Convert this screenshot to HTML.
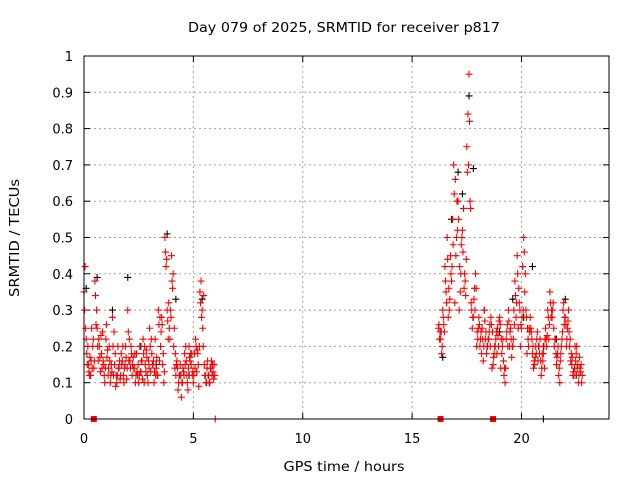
<!DOCTYPE html>
<html><head><meta charset="utf-8"><style>
html,body{margin:0;padding:0;background:#fff}
svg{display:block;font-family:"DejaVu Sans","Liberation Sans",sans-serif}
</style></head><body>
<svg id="c" width="640" height="480" viewBox="0 0 640 480">
<text x="344" y="32" text-anchor="middle" font-size="13" textLength="312" lengthAdjust="spacingAndGlyphs">Day 079 of 2025, SRMTID for receiver p817</text>
<text x="344" y="471" text-anchor="middle" font-size="13" textLength="121" lengthAdjust="spacingAndGlyphs">GPS time / hours</text>
<text transform="translate(19,238) rotate(-90)" text-anchor="middle" font-size="13" textLength="118" lengthAdjust="spacingAndGlyphs">SRMTID / TECUs</text>
<g id="grid"></g><g id="ticks"></g><g id="marks"></g>
<rect x="84" y="56" width="525" height="363" fill="none" stroke="#000" stroke-width="1"/>
</svg>
<script>
const xTicks=[0,5,10,15,20];
const yTicks=[0,0.1,0.2,0.3,0.4,0.5,0.6,0.7,0.8,0.9,1];
const yTickLabels=["0","0.1","0.2","0.3","0.4","0.5","0.6","0.7","0.8","0.9","1"];
const redHours1=[0,0.1,0.2,0.3,0.4,0.5,0.6,0.7,0.8,0.9,1,1.1,1.2,1.3,1.4,1.5,1.6,1.7,1.8,1.9,2,2.1,2.2,2.3,2.4,2.5,2.6,2.7,2.8,2.9,3,3.1,3.2,3.3,3.4,3.5,3.6,3.7,3.8,3.9,4,4.1,4.2,4.3,4.4,4.5,4.6,4.7,4.8,4.9,5,5.1,5.2,5.3,5.4,5.5,5.6,5.7,5.8,5.9];
const redTec1=[0.35,0.22,0.15,0.12,0.2,0.38,0.25,0.2,0.18,0.15,0.22,0.12,0.1,0.28,0.15,0.1,0.14,0.18,0.12,0.2,0.3,0.16,0.12,0.14,0.18,0.1,0.13,0.22,0.15,0.12,0.25,0.18,0.1,0.14,0.3,0.2,0.15,0.5,0.3,0.25,0.45,0.2,0.12,0.08,0.15,0.1,0.18,0.12,0.2,0.15,0.1,0.22,0.18,0.35,0.3,0.15,0.1,0.12,0.14,0.13];
const redHours2=[0.05,0.15,0.25,0.35,0.45,0.55,0.65,0.75,0.85,0.95,1.05,1.15,1.25,1.35,1.45,1.55,1.65,1.75,1.85,1.95,2.05,2.15,2.25,2.35,2.45,2.55,2.65,2.75,2.85,2.95,3.05,3.15,3.25,3.35,3.45,3.55,3.65,3.75,3.85,3.95,4.05,4.15,4.25,4.35,4.45,4.55,4.65,4.75,4.85,4.95,5.05,5.15,5.25,5.35,5.45,5.55,5.65,5.75,5.85,5.95];
const redTec2=[0.42,0.15,0.12,0.25,0.14,0.26,0.16,0.13,0.24,0.1,0.17,0.2,0.15,0.12,0.09,0.2,0.11,0.16,0.14,0.11,0.16,0.2,0.17,0.1,0.12,0.2,0.16,0.1,0.19,0.16,0.13,0.15,0.22,0.12,0.16,0.28,0.1,0.42,0.22,0.3,0.36,0.14,0.16,0.12,0.06,0.13,0.2,0.08,0.16,0.12,0.18,0.13,0.09,0.38,0.2,0.12,0.16,0.1,0.12,0.15];
const redTec5=[0.3,0.18,0.13,0.16,0.22,0.34,0.2,0.17,0.14,0.12,0.26,0.14,0.12,0.2,0.18,0.12,0.16,0.15,0.1,0.17,0.24,0.14,0.15,0.18,0.13,0.12,0.16,0.18,0.13,0.1,0.2,0.15,0.13,0.17,0.26,0.24,0.18,0.46,0.27,0.22,0.38,0.25,0.15,0.1,0.12,0.14,0.15,0.1,0.17,0.18,0.12,0.2,0.15,0.32,0.25,0.12,0.14,0.1,0.16,0.11];
const redTec6=[0.25,0.2,0.17,0.14,0.16,0.3,0.22,0.23,0.16,0.14,0.19,0.16,0.13,0.24,0.12,0.14,0.12,0.2,0.15,0.14,0.22,0.18,0.14,0.12,0.15,0.13,0.11,0.2,0.17,0.14,0.22,0.16,0.12,0.12,0.28,0.26,0.13,0.44,0.32,0.28,0.4,0.18,0.14,0.12,0.1,0.12,0.16,0.14,0.18,0.13,0.14,0.19,0.2,0.28,0.34,0.1,0.12,0.14,0.15,0.12];
const redHours3=[16.2,16.3,16.4,16.5,16.6,16.7,16.8,16.9,17,17.1,17.2,17.3,17.4,17.5,17.6,17.7,17.8,17.9,18,18.1,18.2,18.3,18.4,18.5,18.6,18.7,18.8,18.9,19,19.1,19.2,19.3,19.4,19.5,19.6,19.7,19.8,19.9,20,20.1,20.2,20.3,20.4,20.5,20.6,20.7,20.8,20.9,21,21.1,21.2,21.3,21.4,21.5,21.6,21.7,21.8,21.9,22,22.1,22.2,22.3,22.4,22.5,22.6,22.7];
const redTec3=[0.25,0.22,0.3,0.42,0.5,0.3,0.38,0.7,0.45,0.6,0.35,0.52,0.4,0.75,0.95,0.32,0.28,0.4,0.22,0.2,0.25,0.3,0.18,0.22,0.28,0.15,0.2,0.25,0.28,0.18,0.12,0.22,0.3,0.25,0.2,0.38,0.45,0.32,0.25,0.5,0.3,0.22,0.28,0.18,0.15,0.22,0.2,0.12,0.18,0.25,0.3,0.35,0.28,0.2,0.15,0.12,0.18,0.3,0.28,0.25,0.2,0.15,0.12,0.18,0.1,0.13];
const redHours4=[16.25,16.35,16.45,16.55,16.65,16.75,16.85,16.95,17.05,17.15,17.25,17.35,17.45,17.55,17.65,17.75,17.85,17.95,18.05,18.15,18.25,18.35,18.45,18.55,18.65,18.75,18.85,18.95,19.05,19.15,19.25,19.35,19.45,19.55,19.65,19.75,19.85,19.95,20.05,20.15,20.25,20.35,20.45,20.55,20.65,20.75,20.85,20.95,21.05,21.15,21.25,21.35,21.45,21.55,21.65,21.75,21.85,21.95,22.05,22.15,22.25,22.35,22.45,22.55,22.65,22.75];
const redTec4=[0.22,0.18,0.26,0.35,0.28,0.45,0.55,0.32,0.6,0.3,0.48,0.58,0.34,0.84,0.6,0.25,0.36,0.2,0.28,0.24,0.16,0.22,0.2,0.26,0.14,0.18,0.24,0.2,0.14,0.22,0.1,0.26,0.2,0.17,0.3,0.28,0.25,0.2,0.42,0.35,0.18,0.25,0.24,0.14,0.2,0.16,0.22,0.18,0.14,0.2,0.22,0.28,0.32,0.22,0.18,0.1,0.22,0.26,0.2,0.3,0.16,0.12,0.2,0.14,0.17,0.1];
const redTec7=[0.26,0.24,0.28,0.38,0.44,0.33,0.42,0.62,0.5,0.55,0.4,0.46,0.38,0.68,0.82,0.3,0.33,0.36,0.25,0.22,0.22,0.27,0.2,0.24,0.26,0.17,0.22,0.23,0.26,0.2,0.14,0.24,0.27,0.22,0.22,0.34,0.4,0.3,0.28,0.46,0.28,0.2,0.25,0.2,0.17,0.24,0.18,0.14,0.2,0.22,0.28,0.32,0.3,0.22,0.17,0.14,0.2,0.32,0.26,0.27,0.22,0.17,0.14,0.2,0.12,0.15];
const redTec8=[0.24,0.2,0.24,0.32,0.36,0.4,0.48,0.66,0.52,0.42,0.5,0.36,0.44,0.7,0.58,0.28,0.3,0.24,0.26,0.18,0.2,0.24,0.22,0.2,0.24,0.2,0.18,0.27,0.22,0.16,0.14,0.2,0.24,0.2,0.26,0.32,0.36,0.26,0.3,0.4,0.25,0.24,0.22,0.16,0.18,0.2,0.16,0.16,0.22,0.23,0.26,0.3,0.25,0.18,0.2,0.16,0.24,0.28,0.22,0.24,0.18,0.13,0.16,0.15,0.14,0.12];
const blackHours=[0.1,0.6,1.3,2.0,2.6,3.3,3.8,4.2,4.8,5.4,16.4,16.8,17.1,17.3,17.6,17.8,18.3,19.0,19.6,20.1,20.5,21.0,21.6,22.0,22.5];
const blackTec=[0.36,0.39,0.3,0.39,0.2,0.15,0.51,0.33,0.12,0.33,0.17,0.55,0.68,0.62,0.89,0.69,0.3,0.24,0.33,0.28,0.42,0.2,0.22,0.33,0.12];
const gapHours=[0.45,16.3,18.7];
const x=h=>84+h*(525/24), y=v=>419-v*363;
const NS="http://www.w3.org/2000/svg";
const g=document.getElementById('grid'),tk=document.getElementById('ticks'),mk=document.getElementById('marks');
function mkEl(t,a,p){const e=document.createElementNS(NS,t);for(const k in a)e.setAttribute(k,a[k]);p.appendChild(e);return e;}
xTicks.forEach(v=>{
 const l=mkEl('line',{x1:x(v),x2:x(v),y1:56,y2:419,stroke:'#a0a0a0','stroke-dasharray':'2,3'},g);
 
 
 mkEl('line',{x1:x(v),x2:x(v),y1:419,y2:413,stroke:'#000'},tk);
 mkEl('line',{x1:x(v),x2:x(v),y1:56,y2:62,stroke:'#000'},tk);
 const t=mkEl('text',{x:x(v),y:443,'text-anchor':'middle','font-size':'13'},tk);
 t.textContent=v;
 
 
});
yTicks.forEach((v,i)=>{
 const l=mkEl('line',{x1:84,x2:609,y1:y(v),y2:y(v),stroke:'#a0a0a0','stroke-dasharray':'2,3'},g);
 
 
 mkEl('line',{x1:84,x2:90,y1:y(v),y2:y(v),stroke:'#000'},tk);
 mkEl('line',{x1:609,x2:603,y1:y(v),y2:y(v),stroke:'#000'},tk);
 const t=mkEl('text',{x:73,y:y(v)+5,'text-anchor':'end','font-size':'13'},tk);
 t.textContent=yTickLabels[i];
 
 
});
function plus(h,v,c,name){
 const px=x(h),py=y(v);
 const p=mkEl('path',{d:`M${px-3.5},${py}h7M${px},${py-3.5}v7`,stroke:c,'stroke-width':1.1,fill:'none'},mk);
 
 
}
blackHours.forEach((h,i)=>plus(h,blackTec[i],'#000','black-point'));
const sets=[[redHours1,redTec1,0],[redHours2,redTec2,0],[redHours1,redTec5,0.025],[redHours1,redTec6,0.075],[redHours3,redTec3,0],[redHours4,redTec4,0],[redHours3,redTec7,0.025],[redHours3,redTec8,0.075]];
sets.forEach(([hs,vs,o])=>hs.forEach((h,i)=>plus(h+o,vs[i],'#f00','red-point')));
gapHours.forEach(h=>{
 const r=mkEl('rect',{x:x(h)-3,y:416,width:6,height:6,fill:'#f00'},mk);
 
 
});
plus(21,0,'#000','black-axis-point');
plus(6,0,'#f00','red-axis-point');
</script>
</body></html>
